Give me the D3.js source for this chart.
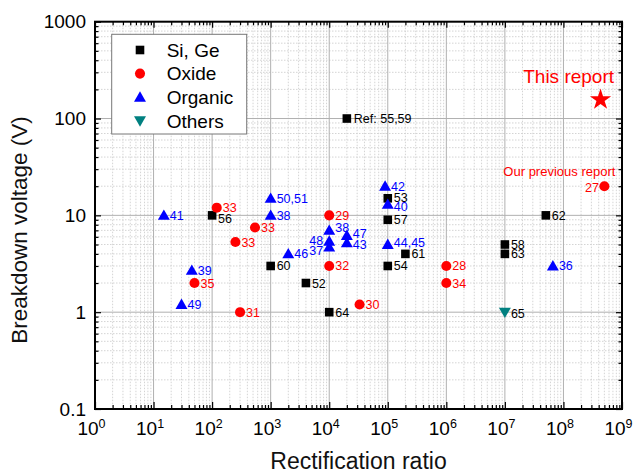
<!DOCTYPE html>
<html>
<head>
<meta charset="utf-8">
<script src="https://cdn.jsdelivr.net/npm/d3@7"></script>
<style>
html,body{margin:0;padding:0;background:#fff;}
svg{display:block;font-family:"Liberation Sans",Arial,Helvetica,sans-serif;}
</style>
</head>
<body>
<svg id="chart" width="638" height="475"></svg>
<script>
// ---------- data ----------
const siX = [2e4, 100, 1e5, 1e5, 5e7, 1e3, 4e3, 1e4, 1e5, 2e5, 1e7, 1e7];
const siY = [100, 10, 15, 9, 10, 3, 2, 1, 3, 4, 5, 4];
const siLabels = ["Ref: 55,59", "56", "53", "57", "62", "60", "52", "64", "54", "61", "58", "63"];

const oxX = [120, 540, 250, 50, 300, 1e4, 1e4, 3.3e4, 1e6, 1e6, 5e8];
const oxY = [12, 7.5, 5.3, 2, 1, 10, 3, 1.2, 3, 2, 20];
const oxLabels = ["33", "33", "33", "35", "31", "29", "32", "30", "28", "34", "27"];

const orgX = [15, 1e3, 1e3, 45, 30, 2e3, 9e4, 1e5, 1e4, 2e4, 2e4, 1e4, 1e4, 1e5, 6.6e7];
const orgY = [10, 15, 10, 2.7, 1.2, 4, 20, 13, 7, 6.2, 5.2, 5.4, 4.7, 5, 3];
const orgLabels = ["41", "50,51", "38", "39", "49", "46", "42", "40", "38", "47", "43", "48", "37", "44,45", "36"];

const othX = [1e7];
const othY = [1];
const othLabels = ["65"];

const reportX = [4.3e8];
const reportY = [160];

const seriesNames = ["Si, Ge", "Oxide", "Organic", "Others"];
const xTickLabels = ["0","1","2","3","4","5","6","7","8","9"];
const yTickLabels = ["0.1", "1", "10", "100", "1000"];
const xTitle = "Rectification ratio";
const yTitle = "Breakdown voltage (V)";
const prevReportText = "Our previous report";
const thisReportText = "This report";

// ---------- label nudges (layout only) ----------
const nudges = {
  "si-1": {dy: 3}, "si-2": {dy: -1}, "si-0": {dx: 7},
  "org-7": {dy: 2.3}, "org-8": {dy: -2.7}, "org-9": {dy: -2}, "org-10": {dy: 2},
  "org-11": {dx: -6, dy: -1, anchor: "end"}, "org-12": {dx: -6, dy: 3.7, anchor: "end"},
  "org-13": {dy: -1.6},
  "ox-10": {dx: -5.5, dy: 1, anchor: "end"},
  "oth-0": {dy: 1}
};

// ---------- setup ----------
const L = 95, R = 622, T = 21.7, B = 409;
const svg = d3.select("#chart");
const x = d3.scaleLog().domain([1, 1e9]).range([L, R]);
const y = d3.scaleLog().domain([0.1, 1000]).range([B, T]);

const isMajor = v => Math.abs(Math.log10(v) - Math.round(Math.log10(v))) < 1e-9;
const xAll = x.ticks(); const yAll = y.ticks();
const xMajor = xAll.filter(isMajor), xMinor = xAll.filter(v => !isMajor(v));
const yMajor = yAll.filter(isMajor), yMinor = yAll.filter(v => !isMajor(v));

// grid
const grid = svg.append("g");
grid.selectAll(".gxm").data(xMinor).join("line")
  .attr("x1", d => x(d)).attr("x2", d => x(d)).attr("y1", T).attr("y2", B)
  .attr("stroke", "#d4d4d4").attr("stroke-width", 1).attr("stroke-dasharray", "1.5,1.5");
grid.selectAll(".gym").data(yMinor).join("line")
  .attr("y1", d => y(d)).attr("y2", d => y(d)).attr("x1", L).attr("x2", R)
  .attr("stroke", "#d4d4d4").attr("stroke-width", 1).attr("stroke-dasharray", "1.5,1.5");
grid.selectAll(".gxM").data(xMajor.filter(d => d > 1 && d < 1e9)).join("line")
  .attr("x1", d => x(d)).attr("x2", d => x(d)).attr("y1", T).attr("y2", B)
  .attr("stroke", "#b0b0b0").attr("stroke-width", 1);
grid.selectAll(".gyM").data(yMajor.filter(d => d > 0.1 && d < 1000)).join("line")
  .attr("y1", d => y(d)).attr("y2", d => y(d)).attr("x1", L).attr("x2", R)
  .attr("stroke", "#b0b0b0").attr("stroke-width", 1);

// axes (ticks inward)
function styleAxis(g) { g.select(".domain").remove(); g.selectAll("line").attr("stroke", "#000").attr("stroke-width", 1.2); }
svg.append("g").attr("transform", `translate(0,${B})`).call(d3.axisBottom(x).tickValues(xMinor).tickSize(-4).tickFormat("")).call(styleAxis);
const xAx = svg.append("g").attr("transform", `translate(0,${B})`)
  .call(d3.axisBottom(x).tickValues(xMajor).tickSize(-7).tickPadding(13).tickFormat((d, i) => xTickLabels[i]))
  .call(styleAxis);
xAx.selectAll("text").each(function(d, i) {
  const t = d3.select(this); const e = t.text(); t.text(null);
  t.attr("font-size", 19).attr("fill", "#000").attr("font-family", null).attr("dy", "0.71em").attr("dx", "-4");
  t.append("tspan").text("10");
  t.append("tspan").attr("font-size", 12.5).attr("dy", "-7").text(e);
});
svg.append("g").attr("transform", `translate(0,${T})`).call(d3.axisTop(x).tickValues(xMinor).tickSize(-3.5).tickFormat("")).call(styleAxis);
svg.append("g").attr("transform", `translate(0,${T})`).call(d3.axisTop(x).tickValues(xMajor).tickSize(-6).tickFormat("")).call(styleAxis);

svg.append("g").attr("transform", `translate(${L},0)`).call(d3.axisLeft(y).tickValues(yMinor).tickSize(-3.5).tickFormat("")).call(styleAxis);
const yAx = svg.append("g").attr("transform", `translate(${L},0)`)
  .call(d3.axisLeft(y).tickValues(yMajor).tickSize(-6).tickPadding(9).tickFormat((d, i) => yTickLabels[i]))
  .call(styleAxis);
yAx.selectAll("text").attr("font-size", 19).attr("fill", "#000").attr("font-family", null);
svg.append("g").attr("transform", `translate(${R},0)`).call(d3.axisRight(y).tickValues(yMinor).tickSize(-3.5).tickFormat("")).call(styleAxis);
svg.append("g").attr("transform", `translate(${R},0)`).call(d3.axisRight(y).tickValues(yMajor).tickSize(-6).tickFormat("")).call(styleAxis);

// frame
svg.append("rect").attr("x", L).attr("y", T).attr("width", R - L).attr("height", B - T)
  .attr("fill", "none").attr("stroke", "#000").attr("stroke-width", 2);

// titles
svg.append("text").attr("x", (L + R) / 2).attr("y", 469).attr("text-anchor", "middle")
  .attr("font-size", 23).attr("fill", "#111").text(xTitle);
svg.append("text").attr("transform", "translate(27,230) rotate(-90)").attr("text-anchor", "middle")
  .attr("font-size", 22.5).attr("fill", "#111").text(yTitle);

// symbols
const symSquare = d3.symbol().type(d3.symbolSquare).size(74)();
const symCircle = d3.symbol().type(d3.symbolCircle).size(80)();
const symTri = d3.symbol().type(d3.symbolTriangle).size(62)();
const symStar = d3.symbol().type(d3.symbolStar).size(140)();

const series = [
  {key: "si", xs: siX, ys: siY, labels: siLabels, path: symSquare, rot: 0, color: "#000", lc: "#000"},
  {key: "ox", xs: oxX, ys: oxY, labels: oxLabels, path: symCircle, rot: 0, color: "#ff0000", lc: "#ff0000"},
  {key: "org", xs: orgX, ys: orgY, labels: orgLabels, path: symTri, rot: 0, color: "#0000ff", lc: "#0000ff"},
  {key: "oth", xs: othX, ys: othY, labels: othLabels, path: symTri, rot: 180, color: "#008080", lc: "#000"}
];

const plot = svg.append("g");
series.forEach(s => {
  const pts = s.xs.map((v, i) => ({x: v, y: s.ys[i], label: s.labels[i], id: s.key + "-" + i}));
  plot.selectAll(null).data(pts).join("path")
    .attr("d", s.path)
    .attr("transform", d => `translate(${x(d.x)},${y(d.y) + (s.path === symTri ? (s.rot ? -1 : 1) : 0)}) rotate(${s.rot})`)
    .attr("fill", s.color);
  plot.selectAll(null).data(pts).join("text")
    .attr("x", d => x(d.x) + ((nudges[d.id] && nudges[d.id].dx !== undefined) ? nudges[d.id].dx : 6))
    .attr("y", d => y(d.y) + ((nudges[d.id] && nudges[d.id].dy) || 0))
    .attr("dy", "0.36em")
    .attr("text-anchor", d => (nudges[d.id] && nudges[d.id].anchor) || "start")
    .attr("font-size", 12.5).attr("fill", s.lc)
    .text(d => d.label);
});

// previous report annotation (attached to last oxide point)
const prevIdx = oxLabels.length - 1;
svg.append("text").attr("x", x(oxX[prevIdx]) + 11).attr("y", y(oxY[prevIdx]) - 14.4).attr("dy", "0.36em")
  .attr("text-anchor", "end").attr("font-size", 13).attr("fill", "#ff0000").text(prevReportText);

// this report star
plot.selectAll(null).data(reportX.map((v, i) => ({x: v, y: reportY[i]}))).join("path")
  .attr("d", symStar).attr("transform", d => `translate(${x(d.x)},${y(d.y) + 1})`).attr("fill", "#ff0000");
svg.append("text").attr("x", x(reportX[0]) + 13.5).attr("y", y(reportY[0]) - 22.3).attr("dy", "0.36em")
  .attr("text-anchor", "end").attr("font-size", 19).attr("fill", "#ff0000").text(thisReportText);

// legend
const lg = svg.append("g");
lg.append("rect").attr("x", 111.7).attr("y", 34.3).attr("width", 135).attr("height", 99.7)
  .attr("fill", "#fff").attr("stroke", "#777").attr("stroke-width", 1);
series.forEach((s, i) => {
  const yy = 50 + i * 23.6;
  lg.append("path").attr("d", s.path).attr("transform", `translate(140,${yy + (s.path === symTri ? (s.rot ? -1 : 1) : 0)}) rotate(${s.rot})`).attr("fill", s.color);
  lg.append("text").attr("x", 166.7).attr("y", yy).attr("dy", "0.36em").attr("font-size", 19).attr("fill", "#000").text(seriesNames[i]);
});
</script>
</body>
</html>
